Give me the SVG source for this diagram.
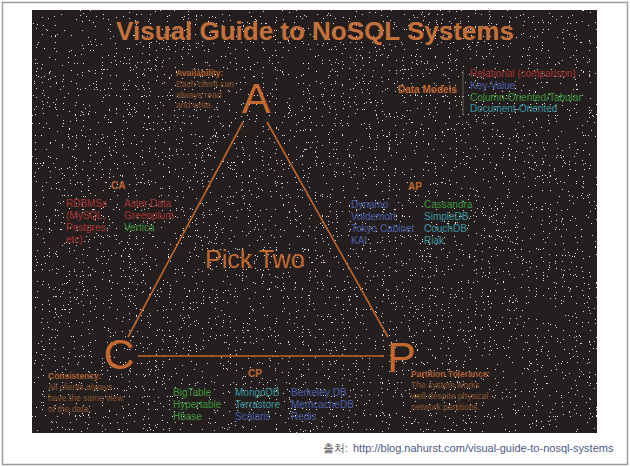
<svg xmlns="http://www.w3.org/2000/svg" width="630" height="467" viewBox="0 0 630 467">
<defs>
<filter id="stars" x="0" y="0" width="100%" height="100%" filterUnits="objectBoundingBox">
<feTurbulence type="fractalNoise" baseFrequency="0.85" numOctaves="1" seed="7" result="n"/>
<feColorMatrix in="n" type="matrix" values="0 0 0 0 1  0 0 0 0 1  0 0 0 0 1  1 0 0 0 0"/>
<feComponentTransfer>
<feFuncA type="discrete" tableValues="0 0 0 0 0 0 0 0 0 0 0 0 0 0 0.85 1 1 1 1 1"/>
</feComponentTransfer>
</filter>
<style>
text{font-family:"Liberation Sans",Arial,sans-serif}
.title{font-size:26px;font-weight:bold;fill:#c4703a}
.big{font-size:43px;fill:#c4682e}
.pick{font-size:25px;fill:#c0682e}
.hd{font-size:8.5px;font-weight:bold;fill:#b0602e}
.ds{font-size:8.5px;fill:#8e5630}
.grp{font-size:10px;font-weight:bold;fill:#c0682e}
.it{font-size:10px}
.r{fill:#a83434}.b{fill:#4b5fa8}.g{fill:#3c963c}.t{fill:#3b97a3}
.edge{stroke:#c0652a;stroke-width:1.6;fill:none}
</style>
</defs>
<rect x="0" y="0" width="630" height="467" fill="#ffffff"/>
<rect x="2.5" y="2.5" width="625" height="462" fill="none" stroke="#9a9a9a" stroke-width="1.5"/>
<rect x="32" y="10" width="565" height="423" fill="#241f1e"/>
<rect x="32" y="10" width="565" height="423" fill="#ffffff" filter="url(#stars)"/>
<text class="title" x="315" y="40" text-anchor="middle">Visual Guide to NoSQL Systems</text>
<g id="connectors">
<line class="edge" x1="243" y1="122" x2="128" y2="337"/>
<line class="edge" x1="267" y1="122" x2="388" y2="337"/>
<line class="edge" x1="138" y1="356" x2="384" y2="356"/>
</g>
<g id="node-A"><text class="big" x="256" y="113" text-anchor="middle">A</text></g>
<g id="node-C"><text class="big" x="119" y="369" text-anchor="middle">C</text></g>
<g id="node-P"><text class="big" x="387" y="372">P</text></g>
<g id="pick-two"><text class="pick" x="205" y="268">Pick Two</text></g>
<g id="availability">
<text class="hd" x="176" y="76">Availability:</text>
<text class="ds" x="176" y="87">Each client can</text>
<text class="ds" x="176" y="97.5">always read</text>
<text class="ds" x="176" y="108">and write.</text>
</g>
<g id="consistency">
<text class="hd" x="48" y="379">Consistency:</text>
<text class="ds" x="48" y="390">All clients always</text>
<text class="ds" x="48" y="401">have the same view</text>
<text class="ds" x="48" y="412">of the data.</text>
</g>
<g id="partition">
<text class="hd" x="411" y="377">Partition Tolerance:</text>
<text class="ds" x="411" y="388">The system works</text>
<text class="ds" x="411" y="399">well despite physical</text>
<text class="ds" x="411" y="410">network partitions.</text>
</g>
<g id="data-models">
<text class="grp" x="398" y="93">Data Models</text>
<line x1="463" y1="70" x2="463" y2="115" stroke="#6a5a52" stroke-width="1"/>
<text class="it r" x="470" y="77">Relational (comparison)</text>
<text class="it b" x="470" y="89">Key-Value</text>
<text class="it g" x="470" y="100.5">Column-Oriented/Tabular</text>
<text class="it t" x="470" y="112">Document-Oriented</text>
</g>
<g id="group-CA">
<text class="grp" x="111" y="189">CA</text>
<text class="it r" x="66" y="207">RDBMSs</text>
<text class="it r" x="66" y="219">(MySQL,</text>
<text class="it r" x="66" y="231">Postgres,</text>
<text class="it r" x="66" y="243">etc)</text>
<text class="it r" x="124" y="207">Aster Data</text>
<text class="it r" x="124" y="219">Greenplum</text>
<text class="it g" x="124" y="231">Vertica</text>
</g>
<g id="group-AP">
<text class="grp" x="408" y="190">AP</text>
<text class="it b" x="351" y="208">Dynamo</text>
<text class="it b" x="351" y="220">Voldemort</text>
<text class="it b" x="351" y="232">Tokyo Cabinet</text>
<text class="it b" x="351" y="244">KAI</text>
<text class="it g" x="424" y="208">Cassandra</text>
<text class="it t" x="424" y="220">SimpleDB</text>
<text class="it t" x="424" y="232">CouchDB</text>
<text class="it t" x="424" y="244">Riak</text>
</g>
<g id="group-CP">
<text class="grp" x="248" y="377">CP</text>
<text class="it g" x="173" y="396">BigTable</text>
<text class="it g" x="173" y="408">Hypertable</text>
<text class="it g" x="173" y="420">Hbase</text>
<text class="it t" x="235" y="396">MongoDB</text>
<text class="it t" x="235" y="408">Terrastore</text>
<text class="it b" x="235" y="420">Scalaris</text>
<text class="it b" x="291" y="396">Berkeley DB</text>
<text class="it b" x="291" y="408">MemcacheDB</text>
<text class="it b" x="291" y="420">Redis</text>
</g>
<g id="source">
<text x="323" y="452" font-size="11" fill="#555555" font-family="'Liberation Sans','Noto Sans CJK KR',sans-serif">출처:</text>
<text x="353" y="452" font-size="11" fill="#4a5a86">http://blog.nahurst.com/visual-guide-to-nosql-systems</text>
</g>
</svg>
